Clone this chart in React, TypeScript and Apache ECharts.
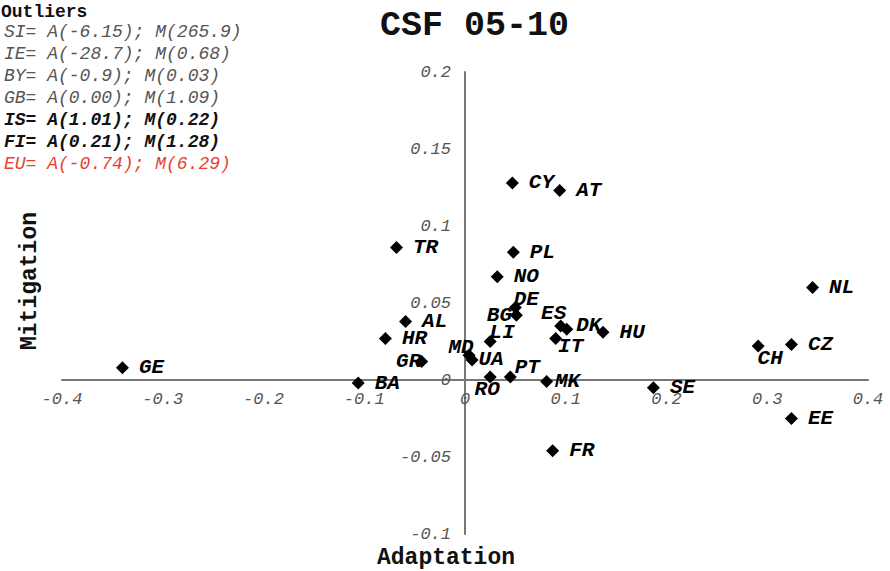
import React, { useEffect, useRef } from "react";
import * as echarts from "echarts";

const countries = ["GE","BA","GR","HR","AL","TR","MD","UA","RO","LI","PT","MK","BG","DE","NO","PL","CY","AT","ES","DK","IT","HU","SE","CH","CZ","NL","EE","FR"];
const adaptation = [-0.340,-0.106,-0.043,-0.079,-0.059,-0.068,0.004,0.007,0.025,0.025,0.045,0.081,0.051,0.050,0.032,0.048,0.047,0.094,0.095,0.101,0.090,0.137,0.187,0.291,0.324,0.345,0.324,0.087];
const mitigation = [0.008,-0.002,0.012,0.027,0.038,0.086,0.016,0.013,0.002,0.025,0.002,-0.001,0.042,0.047,0.067,0.083,0.128,0.123,0.035,0.033,0.027,0.031,-0.005,0.022,0.023,0.060,-0.025,-0.046];

const outlierLines = [
  "SI= A(-6.15); M(265.9)",
  "IE= A(-28.7); M(0.68)",
  "BY= A(-0.9); M(0.03)",
  "GB= A(0.00); M(1.09)",
  "IS= A(1.01); M(0.22)",
  "FI= A(0.21); M(1.28)",
  "EU= A(-0.74); M(6.29)",
];
const outlierKinds = ["plain","plain","plain","plain","bold","bold","red"];

// label placement (style): label centre offset from point, in px
const labelShift: Record<string, number[]> = {
  DE: [11, -8],
  BG: [-17, 0],
  LI: [12, -9],
  MD: [-8, -8],
  UA: [19, 0],
  RO: [-3, 13],
  PT: [17, -9],
  MK: [21, 0],
  ES: [-7, -13],
  DK: [22, -4],
  IT: [15, 8],
  GR: [-13, 0],
  CH: [12, 12],
};

const FONT = "'Courier New', 'Liberation Mono', monospace";

export default function App() {
  const ref = useRef<HTMLDivElement>(null);
  useEffect(() => {
    document.body.style.margin = "0";
    if (!ref.current) return;
    const chart = echarts.init(ref.current, null, { renderer: "svg" });
    const data = countries.map((c, i) => {
      const s = labelShift[c];
      return {
        name: c,
        value: [adaptation[i], mitigation[i]],
        label: s ? { position: "inside", offset: s } : { position: "right" },
      };
    });
    const graphics: any[] = [
      {
        type: "text",
        left: 1,
        top: 3,
        style: { text: "Outliers", font: `bold 18px ${FONT}`, fill: "#111" },
      },
    ];
    outlierLines.forEach((t, i) => {
      const k = outlierKinds[i];
      graphics.push({
        type: "text",
        left: 4,
        top: 23 + i * 22,
        style: {
          text: t,
          font: `${k === "bold" ? "bold " : ""}italic 18px ${FONT}`,
          fill: k === "red" ? "#e8412f" : k === "bold" ? "#111" : "#555",
        },
      });
    });
    graphics.push({
      type: "text",
      left: 377,
      top: 546,
      style: { text: "Adaptation", font: `bold 23px ${FONT}`, fill: "#111" },
    });
    graphics.push({
      type: "text",
      x: 18,
      y: 350,
      rotation: Math.PI / 2,
      style: { text: "Mitigation", font: `bold 23px ${FONT}`, fill: "#111" },
    });
    chart.setOption({
      animation: false,
      backgroundColor: "#fff",
      title: {
        text: "CSF 05-10",
        left: 375,
        top: 3,
        textStyle: { fontFamily: FONT, fontWeight: "bold", fontSize: 35, color: "#111" },
      },
      grid: { left: 62, right: 22, top: 72, bottom: 37 },
      xAxis: {
        type: "value",
        min: -0.4,
        max: 0.4,
        interval: 0.1,
        offset: -154,
        axisLine: { onZero: false, lineStyle: { color: "#777", width: 2 } },
        axisTick: { show: false },
        splitLine: { show: false },
        axisLabel: {
          margin: 11,
          fontFamily: FONT,
          fontStyle: "italic",
          fontSize: 17,
          color: "#555",
          formatter: (v: number) => String(Math.round(v * 10) / 10),
        },
      },
      yAxis: {
        type: "value",
        min: -0.1,
        max: 0.2,
        interval: 0.05,
        offset: -403,
        axisLine: { onZero: false, lineStyle: { color: "#777", width: 2 } },
        axisTick: { show: false },
        splitLine: { show: false },
        axisLabel: {
          margin: 14,
          fontFamily: FONT,
          fontStyle: "italic",
          fontSize: 17,
          color: "#555",
          formatter: (v: number) => String(Math.round(v * 100) / 100),
        },
      },
      graphic: graphics,
      series: [
        {
          type: "scatter",
          symbol: "diamond",
          symbolSize: 13,
          itemStyle: { color: "#000", opacity: 1 },
          label: {
            show: true,
            formatter: "{b}",
            distance: 10,
            fontFamily: FONT,
            fontWeight: "bold",
            fontStyle: "italic",
            fontSize: 21,
            color: "#000",
          },
          data,
        },
      ],
    });
    return () => chart.dispose();
  }, []);
  return <div ref={ref} style={{ width: 890, height: 571 }} />;
}
